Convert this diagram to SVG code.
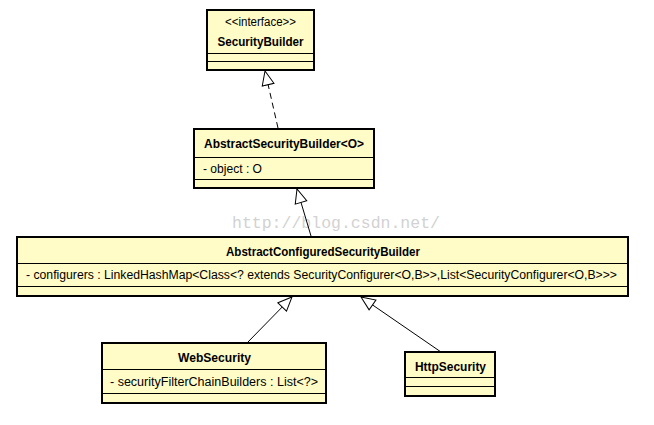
<svg xmlns="http://www.w3.org/2000/svg" width="654" height="425" viewBox="0 0 654 425">
<style>
.box{fill:#fffcc8;stroke:#000;stroke-width:2}
.div{stroke:#000;stroke-width:1}
.t{font-family:"Liberation Sans","DejaVu Sans",Arial,sans-serif;font-size:12px;fill:#000}
.b{font-weight:bold;text-anchor:middle}
.c{text-anchor:middle}
.edge{fill:none;stroke:#000;stroke-width:1}
.wm{font-family:"Liberation Mono","DejaVu Sans Mono",monospace;font-size:17px;fill:#d2d2d2}
</style>
<defs>
<marker id="tri" viewBox="0 0 16 14" refX="15" refY="7" markerWidth="16" markerHeight="14" markerUnits="userSpaceOnUse" orient="auto">
<path d="M1,1 L15,7 L1,13 Z" fill="#fff" stroke="#000" stroke-width="1"/>
</marker>
</defs>
<rect width="654" height="425" fill="#fff"/>
<text class="wm" x="232" y="228" textLength="208" lengthAdjust="spacingAndGlyphs">http://blog.csdn.net/</text>
<g id="edges">
<line class="edge" x1="278" y1="128" x2="265" y2="71" stroke-dasharray="6,4" marker-end="url(#tri)"/>
<line class="edge" x1="311" y1="236" x2="297" y2="189" marker-end="url(#tri)"/>
<line class="edge" x1="247" y1="343" x2="292" y2="297" marker-end="url(#tri)"/>
<line class="edge" x1="441" y1="352" x2="361" y2="297" marker-end="url(#tri)"/>
</g>
<g id="SecurityBuilder">
<rect class="box" x="207" y="10" width="107" height="60"/>
<text class="t c" x="260.5" y="26" textLength="71" lengthAdjust="spacingAndGlyphs">&lt;&lt;interface&gt;&gt;</text>
<text class="t b" x="260.5" y="46" textLength="86" lengthAdjust="spacingAndGlyphs">SecurityBuilder</text>
<line class="div" x1="207" y1="53.5" x2="314" y2="53.5"/>
<line class="div" x1="207" y1="61.5" x2="314" y2="61.5"/>
</g>
<g id="AbstractSecurityBuilder">
<rect class="box" x="194" y="129" width="180" height="59"/>
<text class="t b" x="284" y="148" textLength="160" lengthAdjust="spacingAndGlyphs">AbstractSecurityBuilder&lt;O&gt;</text>
<line class="div" x1="194" y1="157.5" x2="374" y2="157.5"/>
<text class="t" x="203" y="173" textLength="59" lengthAdjust="spacingAndGlyphs">- object : O</text>
<line class="div" x1="194" y1="179.5" x2="374" y2="179.5"/>
</g>
<g id="AbstractConfiguredSecurityBuilder">
<rect class="box" x="17" y="237" width="611" height="59"/>
<text class="t b" x="323" y="256" textLength="194" lengthAdjust="spacingAndGlyphs">AbstractConfiguredSecurityBuilder</text>
<line class="div" x1="17" y1="263.5" x2="628" y2="263.5"/>
<text class="t" x="26" y="279" textLength="591" lengthAdjust="spacingAndGlyphs">- configurers : LinkedHashMap&lt;Class&lt;? extends SecurityConfigurer&lt;O,B&gt;&gt;,List&lt;SecurityConfigurer&lt;O,B&gt;&gt;&gt;</text>
<line class="div" x1="17" y1="286.5" x2="628" y2="286.5"/>
</g>
<g id="WebSecurity">
<rect class="box" x="102" y="343" width="224" height="60"/>
<text class="t b" x="214.5" y="362" textLength="73" lengthAdjust="spacingAndGlyphs">WebSecurity</text>
<line class="div" x1="102" y1="369.5" x2="326" y2="369.5"/>
<text class="t" x="110" y="386" textLength="208" lengthAdjust="spacingAndGlyphs">- securityFilterChainBuilders : List&lt;?&gt;</text>
<line class="div" x1="102" y1="393.5" x2="326" y2="393.5"/>
</g>
<g id="HttpSecurity">
<rect class="box" x="405" y="352" width="90" height="44"/>
<text class="t b" x="450.5" y="371" textLength="71" lengthAdjust="spacingAndGlyphs">HttpSecurity</text>
<line class="div" x1="405" y1="377.5" x2="495" y2="377.5"/>
<line class="div" x1="405" y1="386.5" x2="495" y2="386.5"/>
</g>
</svg>
